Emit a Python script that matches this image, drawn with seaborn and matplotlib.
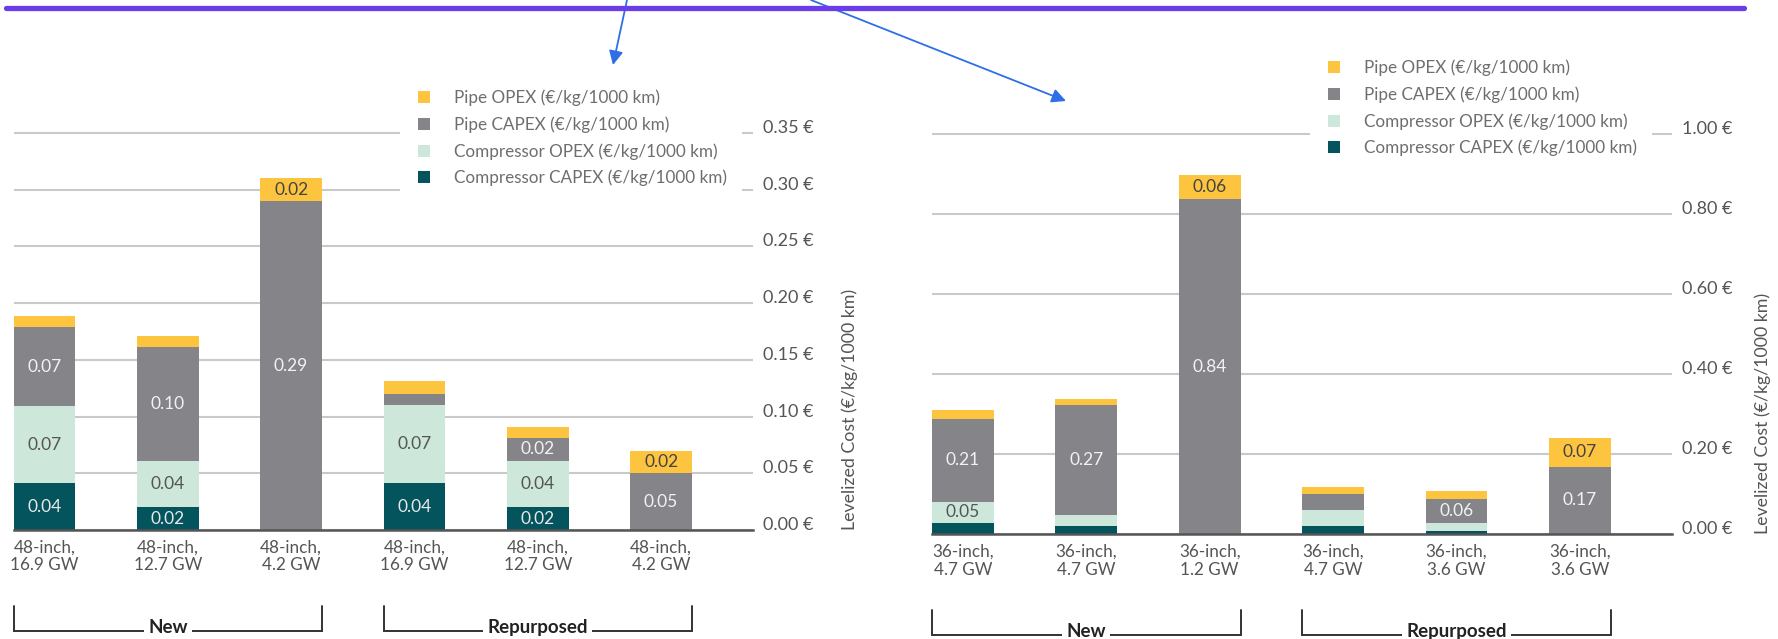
import numpy as np
import pandas as pd
import matplotlib
matplotlib.use("Agg")
import matplotlib.pyplot as plt
from matplotlib.lines import Line2D
from matplotlib.patches import FancyArrowPatch
from matplotlib.transforms import blended_transform_factory
import seaborn as sns

sns.set_theme(style="white")
plt.rcParams["font.family"] = ["Lato", "DejaVu Sans"]

# ---- data -------------------------------------------------------------
series = ["Compressor CAPEX (€/kg/1000 km)", "Compressor OPEX (€/kg/1000 km)",
          "Pipe CAPEX (€/kg/1000 km)", "Pipe OPEX (€/kg/1000 km)"]
groups = ["New", "Repurposed"]

cats_48 = ["48-inch,\n16.9 GW", "48-inch,\n12.7 GW", "48-inch,\n4.2 GW",
           "48-inch,\n16.9 GW", "48-inch,\n12.7 GW", "48-inch,\n4.2 GW"]
comp_capex_48 = [0.041, 0.020, 0.000, 0.041, 0.020, 0.000]
comp_opex_48 = [0.068, 0.041, 0.000, 0.069, 0.041, 0.000]
pipe_capex_48 = [0.070, 0.100, 0.290, 0.010, 0.020, 0.050]
pipe_opex_48 = [0.010, 0.010, 0.020, 0.011, 0.010, 0.020]
ticks_48 = [0.00, 0.05, 0.10, 0.15, 0.20, 0.25, 0.30, 0.35]

cats_36 = ["36-inch,\n4.7 GW", "36-inch,\n4.7 GW", "36-inch,\n1.2 GW",
           "36-inch,\n4.7 GW", "36-inch,\n3.6 GW", "36-inch,\n3.6 GW"]
comp_capex_36 = [0.029, 0.021, 0.000, 0.021, 0.009, 0.000]
comp_opex_36 = [0.052, 0.028, 0.000, 0.040, 0.020, 0.000]
pipe_capex_36 = [0.208, 0.273, 0.838, 0.040, 0.060, 0.169]
pipe_opex_36 = [0.021, 0.016, 0.060, 0.016, 0.020, 0.072]
ticks_36 = [0.00, 0.20, 0.40, 0.60, 0.80, 1.00]

ylabel = "Levelized Cost (€/kg/1000 km)"

# ---- style ------------------------------------------------------------
colors = ["#03545c", "#cde7da", "#858589", "#fdc43f"]
value_colors = ["#e8e8e8", "#555555", "#f2f2f2", "#444444"]
W, H = 1778, 639
fig = plt.figure(figsize=(W / 100, H / 100), dpi=100)


def fx(px):
    return px / W


def fy(py):
    return 1 - py / H


def draw_panel(ax, cats, layers, ticks, ymax, label_min, bracket_y, fmt):
    pos = np.arange(len(cats))
    layers = np.array(layers)
    cum = np.cumsum(layers, axis=0)
    # stacked bars: draw cumulative totals from the top layer down
    for i in range(len(layers) - 1, -1, -1):
        df = pd.DataFrame({"pos": pos, "value": cum[i]})
        sns.barplot(data=df, x="pos", y="value", color=colors[i], width=0.5,
                    saturation=1, linewidth=0, errorbar=None, ax=ax, zorder=2)
    for i in range(len(layers)):
        for j in pos:
            v = layers[i, j]
            if v >= label_min:
                ax.text(j, cum[i, j] - v / 2, f"{v:.2f}", ha="center", va="center",
                        fontsize=12.5, color=value_colors[i], zorder=3)
    ax.set_xlim(-0.25, 5.745)
    ax.set_ylim(0, ymax)
    ax.set_xlabel("")
    ax.set_ylabel("")
    for s in ["top", "left", "right"]:
        ax.spines[s].set_visible(False)
    ax.spines["bottom"].set_color("#555555")
    ax.spines["bottom"].set_linewidth(1.8)
    ax.yaxis.grid(True, color="#c9c9c9", linewidth=1.5)
    ax.xaxis.grid(False)
    ax.set_axisbelow(True)
    ax.yaxis.tick_right()
    ax.set_yticks(ticks)
    ax.set_yticklabels([fmt.format(t) for t in ticks])
    for lab in ax.get_yticklabels():
        lab.set_verticalalignment("baseline")
    ax.tick_params(axis="y", length=0, pad=7.5, labelsize=13, labelcolor="#555555")
    ax.set_xticks(pos)
    ax.set_xticklabels(cats)
    ax.tick_params(axis="x", length=0, pad=7, labelsize=12.3, labelcolor="#555555")
    for lab in ax.get_xticklabels():
        lab.set_linespacing(1.12)
    # group brackets under the categories
    tr = blended_transform_factory(ax.transData, fig.transFigure)
    y_line, y_top = fy(bracket_y), fy(bracket_y - 25)
    for g, (a, b) in zip(groups, [(-0.25, 2.25), (2.75, 5.25)]):
        ax.plot([a, a, b, b], [y_top, y_line, y_line, y_top], color="#333333",
                lw=1.4, transform=tr, clip_on=False, solid_joinstyle="miter")
        ax.text((a + b) / 2, y_line + 0.006, g, transform=tr, ha="center", va="center",
                fontsize=13.5, fontweight="bold", color="#222222",
                bbox=dict(facecolor="white", edgecolor="none", pad=3))


def panel_legend(x_px, y_px):
    handles = [Line2D([], [], marker="s", linestyle="none", markersize=8.5,
                      markerfacecolor=colors[i], markeredgewidth=0)
               for i in range(3, -1, -1)]
    labels = [series[i] for i in range(3, -1, -1)]
    leg = fig.legend(handles, labels, loc="upper left",
                     bbox_to_anchor=(fx(x_px), fy(y_px)), bbox_transform=fig.transFigure,
                     frameon=True, facecolor="white", edgecolor="none", framealpha=1,
                     fancybox=False, borderpad=0.9, borderaxespad=0, handlelength=1.0,
                     handletextpad=1.25, labelspacing=0.6, fontsize=12.3,
                     labelcolor="#6e6e6e")
    return leg


ax1 = fig.add_axes([fx(13.6), fy(530), fx(753 - 13.6), 0.37 * 1134.3 / H])
draw_panel(ax1, cats_48, [comp_capex_48, comp_opex_48, pipe_capex_48, pipe_opex_48],
           ticks_48, 0.37, 0.015, 631, "{:.2f} €")

ax2 = fig.add_axes([fx(932), fy(534.3), fx(1672 - 932), 1.05 * 400 / H])
draw_panel(ax2, cats_36, [comp_capex_36, comp_opex_36, pipe_capex_36, pipe_opex_36],
           ticks_36, 1.05, 0.045, 635, "{:.2f} €")

panel_legend(400, 74)
panel_legend(1310, 44)

fig.text(fx(850), fy(530), ylabel, rotation=90, ha="center", va="bottom",
         fontsize=12.8, color="#555555")
fig.text(fx(1763), fy(534), ylabel, rotation=90, ha="center", va="bottom",
         fontsize=12.8, color="#555555")

# pointer arrows and the header rule
for (x0, y0), (x1, y1) in [((627, 0), (613, 65)), ((811, 0), (1066, 101))]:
    fig.patches.append(FancyArrowPatch((fx(x0), fy(y0)), (fx(x1), fy(y1)),
                                       transform=fig.transFigure, arrowstyle="-|>",
                                       mutation_scale=21, color="#2f6fe6", lw=1.3,
                                       shrinkA=0, shrinkB=0))
fig.add_artist(Line2D([fx(6), fx(1744)], [fy(8), fy(8)], color="#6b3de9", lw=3.8,
                      solid_capstyle="round"))

fig.savefig("out.png", dpi=100, facecolor="white")
